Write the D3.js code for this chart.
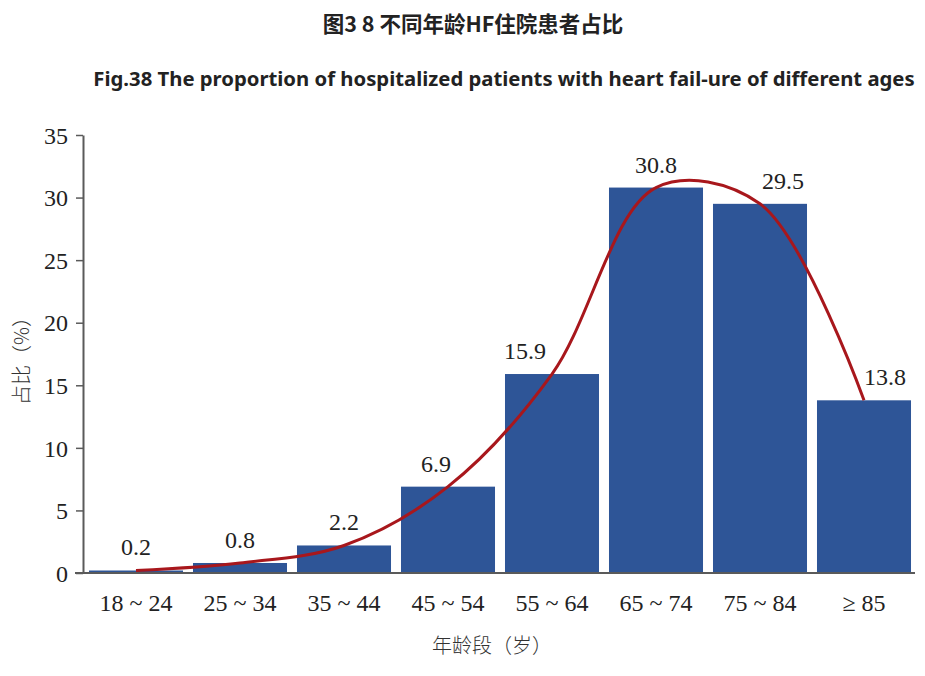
<!DOCTYPE html>
<html>
<head>
<meta charset="utf-8">
<script src="https://cdn.jsdelivr.net/npm/d3@7"></script>
<style>
  body { margin: 0; background: #fff; }
  .tick text { font-family: "Liberation Serif", "Times New Roman", serif; }
</style>
</head>
<body>
<div id="chart"></div>
<script>
// chart data
var ageGroups = ["18 ~ 24", "25 ~ 34", "35 ~ 44", "45 ~ 54", "55 ~ 64", "65 ~ 74", "75 ~ 84", "≥ 85"];
var shares = [0.2, 0.8, 2.2, 6.9, 15.9, 30.8, 29.5, 13.8];
var yTicks = [0, 5, 10, 15, 20, 25, 30, 35];

// labels nudged sideways so the curve doesn't cross them
var labelDx = [0, 0, 0, -12, -27, 0, 23, 21];

var svgWidth = 925;
var svgHeight = 676;
var margin = {top: 135, right: 9, bottom: 103, left: 84};

var svg = d3.select("#chart").append("svg")
    .attr("width", svgWidth)
    .attr("height", svgHeight);

// titles
svg.append("text")
    .attr("x", 473)
    .attr("y", 32)
    .attr("text-anchor", "middle")
    .attr("font-family", "'Noto Sans CJK SC', sans-serif")
    .attr("font-weight", "bold")
    .attr("font-size", 21.5)
    .attr("fill", "#222")
    .text("图3 8 不同年龄HF住院患者占比");

svg.append("text")
    .attr("x", 504)
    .attr("y", 86)
    .attr("text-anchor", "middle")
    .attr("font-family", "'Noto Sans', sans-serif")
    .attr("font-weight", "bold")
    .attr("font-size", 20.3)
    .attr("fill", "#222")
    .text("Fig.38 The proportion of hospitalized patients with heart fail-ure of different ages");

var x = d3.scaleBand()
    .domain(ageGroups)
    .range([margin.left, svgWidth - margin.right])
    .paddingInner(0.096)
    .paddingOuter(0.048);

var y = d3.scaleLinear()
    .domain([0, 35])
    .range([svgHeight - margin.bottom, margin.top]);

// bars
svg.selectAll("rect.bar")
    .data(shares)
    .enter()
    .append("rect")
    .attr("class", "bar")
    .attr("x", function(d, i) { return x(ageGroups[i]); })
    .attr("y", function(d) { return y(d); })
    .attr("width", x.bandwidth())
    .attr("height", function(d) { return y(0) - y(d); })
    .attr("fill", "#2e5597");

// smooth curve through bar tops
var line = d3.line()
    .x(function(d, i) { return x(ageGroups[i]) + x.bandwidth() / 2; })
    .y(function(d) { return y(d); })
    .curve(d3.curveCatmullRom.alpha(0.5));

svg.append("path")
    .datum(shares)
    .attr("d", line)
    .attr("fill", "none")
    .attr("stroke", "#a8171c")
    .attr("stroke-width", 3);

// value labels
svg.selectAll("text.value")
    .data(shares)
    .enter()
    .append("text")
    .attr("class", "value")
    .attr("x", function(d, i) { return x(ageGroups[i]) + x.bandwidth() / 2 + labelDx[i]; })
    .attr("y", function(d) { return y(d) - 15; })
    .attr("text-anchor", "middle")
    .attr("font-family", "'Liberation Serif', serif")
    .attr("font-size", 24)
    .attr("fill", "#222")
    .text(function(d) { return d.toFixed(1); });

// y axis
var yAxis = svg.append("g")
    .attr("transform", "translate(" + (margin.left - 1) + ",0)")
    .call(d3.axisLeft(y).tickValues(yTicks).tickSize(7).tickSizeOuter(0).tickPadding(8));

// x axis
var xAxis = svg.append("g")
    .attr("transform", "translate(0," + y(0) + ")")
    .call(d3.axisBottom(x).tickSize(0).tickPadding(21));

xAxis.select(".domain").attr("d", "M75,0H915");

[yAxis, xAxis].forEach(function(g) {
    g.select(".domain").attr("stroke", "#5a5a5a").attr("stroke-width", 2);
    g.selectAll(".tick line").attr("stroke", "#5a5a5a").attr("stroke-width", 1.5);
    g.selectAll(".tick text")
        .attr("font-size", 24)
        .attr("fill", "#222");
});
yAxis.selectAll(".tick text").attr("dy", "0.34em");

// axis titles
svg.append("text")
    .attr("transform", "translate(29," + 356 + ") rotate(-90)")
    .attr("text-anchor", "middle")
    .attr("font-family", "'Noto Sans CJK SC', sans-serif")
    .attr("font-weight", 300)
    .attr("font-size", 20)
    .attr("fill", "#333")
    .text("占比（%）");

svg.append("text")
    .attr("x", 492)
    .attr("y", 653)
    .attr("text-anchor", "middle")
    .attr("font-family", "'Noto Sans CJK SC', sans-serif")
    .attr("font-weight", 300)
    .attr("font-size", 20)
    .attr("fill", "#333")
    .text("年龄段（岁）");
</script>
</body>
</html>
